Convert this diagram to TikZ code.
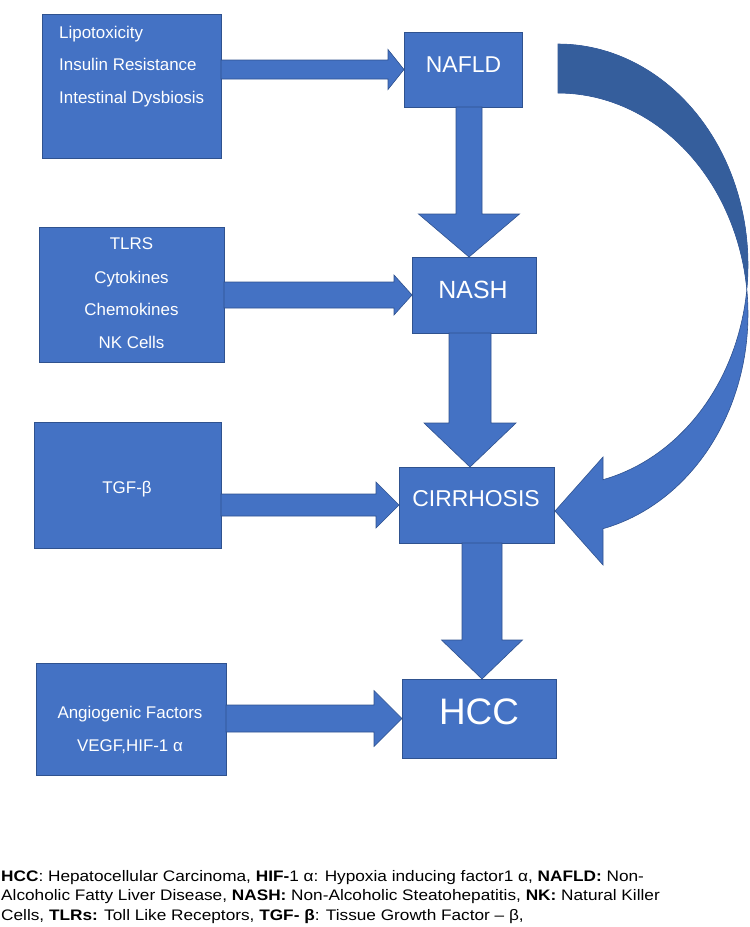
\documentclass[tikz,border=0pt]{standalone}
\usepackage{fontspec}
\setmainfont{Liberation Sans}
\newfontfamily\fnfont[FakeStretch=1.13]{Liberation Sans}
\usetikzlibrary{calc}
\definecolor{boxblue}{HTML}{4472C4}
\definecolor{edgeblue}{HTML}{2F528F}
\definecolor{darkblue}{HTML}{355E9C}
\tikzset{
  box/.style={draw=edgeblue, fill=boxblue, line width=0.8bp, inner sep=0pt, outer sep=0pt},
  arr/.style={draw=edgeblue, fill=boxblue, line width=0.6bp, line join=miter},
  wt/.style={text=white, inner sep=0pt, font=\fontsize{17}{20}\selectfont},
  fn/.style={text=black, inner sep=0pt, anchor=base west, font=\fnfont\fontsize{15.3}{18}\selectfont},
}
\newcommand\harrow[5]{%
  \filldraw[arr] ($(#1)+(0,-#3)$) -- ($(#2)+(-#5,-#3)$) -- ($(#2)+(-#5,-#4)$) -- (#2)
    -- ($(#2)+(-#5,#4)$) -- ($(#2)+(-#5,#3)$) -- ($(#1)+(0,#3)$) -- cycle;}
\newcommand\varrow[5]{%
  \filldraw[arr] ($(#1)+(-#3,0)$) -- ($(#2)+(-#3,-#5)$) -- ($(#2)+(-#4,-#5)$) -- (#2)
    -- ($(#2)+(#4,-#5)$) -- ($(#2)+(#3,-#5)$) -- ($(#1)+(#3,0)$) -- cycle;}
\begin{document}
\begin{tikzpicture}[x=1bp,y=-1bp]
\useasboundingbox (0,0) rectangle (750,927);

% boxes
\node[box, minimum width=179bp, minimum height=144bp] (b1) at (131.5,86) {};
\node[box, minimum width=118bp, minimum height=75bp] (nafld) at (463,69.5) {};
\node[box, minimum width=185bp, minimum height=135bp] (b2) at (131.5,294.5) {};
\node[box, minimum width=124bp, minimum height=76bp] (nash) at (474,295) {};
\node[box, minimum width=187bp, minimum height=126bp] (b3) at (127.5,485) {};
\node[box, minimum width=155bp, minimum height=76bp] (cirr) at (476.5,505) {};
\node[box, minimum width=190bp, minimum height=112bp] (b4) at (131,719) {};
\node[box, minimum width=154bp, minimum height=79bp] (hcc) at (479,718.5) {};

% curved arrow NAFLD -> CIRRHOSIS
\coordinate (ctail) at (558,44);
\coordinate (ctip) at ($(cirr.east)+(1,6)$);
\filldraw[arr] plot[domain=90:-76.3, samples=90] ({558+190*cos(\x)},{265-221*sin(\x)})
  -- (603,457) -- (ctip) -- (603,565)
  -- plot[domain=-76.3:90, samples=90] ({558+190*cos(\x)},{314-221*sin(\x)}) -- cycle;
\fill[darkblue] plot[domain=90:-6.37, samples=60] ({558+190*cos(\x)},{265-221*sin(\x)})
  -- plot[domain=6.37:90, samples=60] ({558+190*cos(\x)},{314-221*sin(\x)}) -- cycle;

% horizontal block arrows
\coordinate (s1) at (b1.east |- nafld.west);
\coordinate (s2) at (b2.east |- nash.west);
\coordinate (s3) at (b3.east |- cirr.west);
\coordinate (s4) at (b4.east |- hcc.west);
\harrow{s1}{nafld.west}{9.5}{20}{16}
\harrow{s2}{nash.west}{13}{20}{18}
\harrow{s3}{cirr.west}{11}{23}{23}
\harrow{s4}{hcc.west}{13.5}{28}{28}

% vertical block arrows
\coordinate (v1s) at (469,0 |- nafld.south);
\coordinate (v1t) at (469,0 |- nash.north);
\coordinate (v2s) at (470,0 |- nash.south);
\coordinate (v2t) at (470,0 |- cirr.north);
\coordinate (v3s) at (482,0 |- cirr.south);
\coordinate (v3t) at (482,0 |- hcc.north);
\varrow{v1s}{v1t}{13}{50.5}{43}
\varrow{v2s}{v2t}{21}{46}{44}
\varrow{v3s}{v3t}{20}{40.5}{39}

% texts in boxes
\node[wt, anchor=base west] (t1a) at (59,38) {Lipotoxicity};
\node[wt, anchor=base west] (t1b) at (59,70) {Insulin Resistance};
\node[wt, anchor=base west] (t1c) at (59,103) {Intestinal Dysbiosis};
\node[wt, anchor=base] (t2a) at (131.5,249) {TLRS};
\node[wt, anchor=base] (t2b) at (131.5,283) {Cytokines};
\node[wt, anchor=base] (t2c) at (131.5,315) {Chemokines};
\node[wt, anchor=base] (t2d) at (131.5,348) {NK Cells};
\node[wt, anchor=base] (t3a) at (127,493) {TGF-β};
\node[wt, anchor=base] (t4a) at (130,718) {Angiogenic Factors};
\node[wt, anchor=base] (t4b) at (130,751) {VEGF,HIF-1 α};

\node[text=white, inner sep=0pt, anchor=base, font=\fontsize{23}{26}\selectfont] (tn1) at (463.5,72) {NAFLD};
\node[text=white, inner sep=0pt, anchor=base, font=\fontsize{25}{28}\selectfont] (tn2) at (473,298.5) {NASH};
\node[text=white, inner sep=0pt, anchor=base, font=\fontsize{23}{26}\selectfont] (tn3) at (476,506.5) {CIRRHOSIS};
\node[text=white, inner sep=0pt, anchor=base, font=\fontsize{37}{40}\selectfont] (tn4) at (479,724.5) {HCC};

% footnote
\node[fn] (f1) at (1,881) {\textbf{HCC}: Hepatocellular Carcinoma, \textbf{HIF-}1 α: Hypoxia inducing factor1 α, \textbf{NAFLD:} Non-};
\node[fn] (f2) at (1,900.5) {Alcoholic Fatty Liver Disease, \textbf{NASH:} Non-Alcoholic Steatohepatitis, \textbf{NK:} Natural Killer};
\node[fn] (f3) at (1,920) {Cells, \textbf{TLRs:} Toll Like Receptors, \textbf{TGF- β}: Tissue Growth Factor – β,};
\end{tikzpicture}
\end{document}
